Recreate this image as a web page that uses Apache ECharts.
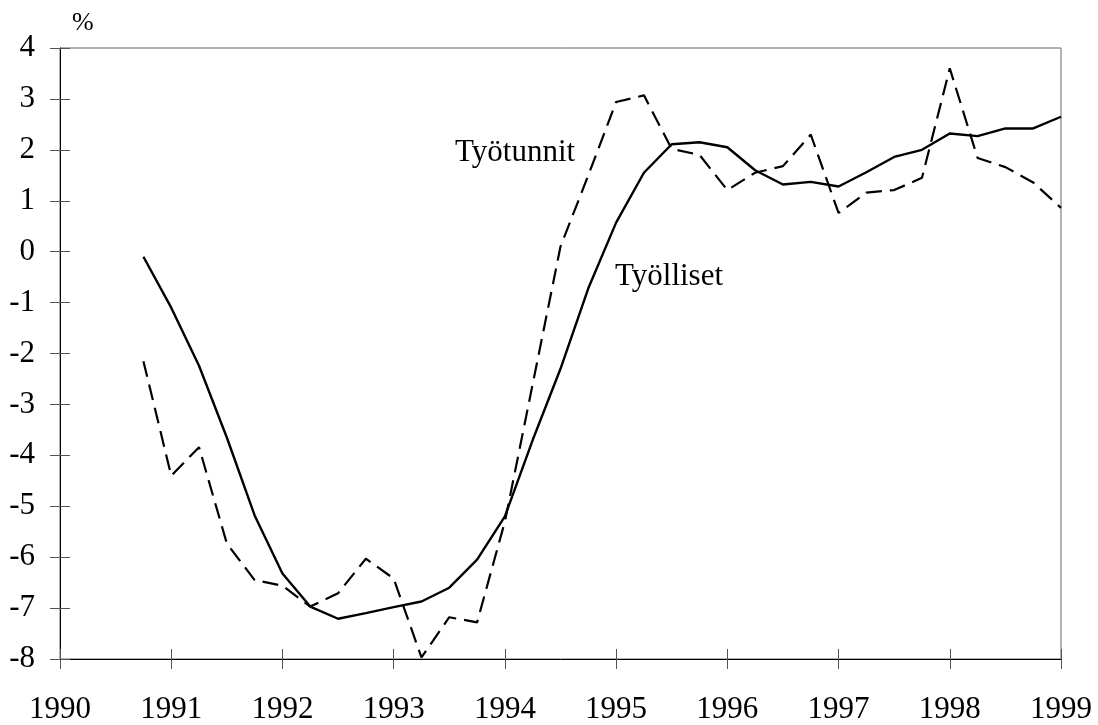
<!DOCTYPE html>
<html>
<head>
<meta charset="utf-8">
<script src="https://cdn.jsdelivr.net/npm/echarts@6/dist/echarts.min.js"></script>
<style>
html,body{margin:0;padding:0;background:#fff;}
#c{width:1098px;height:725px;}
</style>
</head>
<body>
<div id="c"></div>
<script>
// Quarter positions (year fraction)
var periods = [1990.75, 1991.0, 1991.25, 1991.5, 1991.75, 1992.0, 1992.25, 1992.5, 1992.75,
  1993.0, 1993.25, 1993.5, 1993.75, 1994.0, 1994.25, 1994.5, 1994.75,
  1995.0, 1995.25, 1995.5, 1995.75, 1996.0, 1996.25, 1996.5, 1996.75,
  1997.0, 1997.25, 1997.5, 1997.75, 1998.0, 1998.25, 1998.5, 1998.75, 1999.0];
// Työlliset (employed persons), % change
var tyolliset = [-0.1, -1.1, -2.24, -3.65, -5.18, -6.32, -6.97, -7.21, -7.1,
  -6.98, -6.87, -6.6, -6.05, -5.2, -3.7, -2.3, -0.72,
  0.57, 1.55, 2.11, 2.15, 2.05, 1.6, 1.32, 1.37,
  1.28, 1.56, 1.86, 2.0, 2.32, 2.27, 2.42, 2.42, 2.65];
// Työtunnit (hours worked), % change
var tyotunnit = [-2.15, -4.4, -3.84, -5.73, -6.45, -6.56, -6.97, -6.71, -6.03,
  -6.42, -7.97, -7.18, -7.28, -5.3, -2.6, 0.1, 1.5,
  2.94, 3.07, 2.02, 1.9, 1.21, 1.55, 1.68, 2.3,
  0.76, 1.16, 1.21, 1.45, 3.6, 1.84, 1.66, 1.36, 0.86];
var yearTicks = [1990, 1991, 1992, 1993, 1994, 1995, 1996, 1997, 1998, 1999];

function pairs(xs, ys){ return xs.map(function(x,i){ return [x, ys[i]]; }); }

var FONT = '"Liberation Serif", "Times New Roman", serif';
var chart = echarts.init(document.getElementById('c'), null, {renderer:'canvas'});
var xCommon = {type:'value', min:yearTicks[0], max:yearTicks[yearTicks.length-1], interval:1, splitLine:{show:false}};
var yCommon = {type:'value', min:-8, max:4, interval:1, splitLine:{show:false}};
chart.setOption({
  animation:false,
  backgroundColor:'#fff',
  grid:{left:60, right:37, top:48, bottom:64, show:true, borderColor:'#666', borderWidth:1, backgroundColor:'transparent'},
  xAxis:[
    Object.assign({}, xCommon, {position:'bottom',
      axisLine:{show:true, onZero:false, lineStyle:{color:'#000', width:1}},
      axisTick:{show:true, inside:false, length:10, lineStyle:{color:'#555'}},
      axisLabel:{show:true, margin:35, color:'#000', fontSize:31, fontFamily:FONT,
        formatter:function(v){ return String(v); }}}),
    Object.assign({}, xCommon, {position:'bottom',
      axisLine:{show:false, onZero:false},
      axisTick:{show:true, inside:true, length:10, lineStyle:{color:'#555'}},
      axisLabel:{show:false}})
  ],
  yAxis:[
    Object.assign({}, yCommon, {position:'left',
      axisLine:{show:true, onZero:false, lineStyle:{color:'#000', width:1}},
      axisTick:{show:true, inside:false, length:10, lineStyle:{color:'#555'}},
      axisLabel:{show:true, margin:25, color:'#000', fontSize:31, fontFamily:FONT}}),
    Object.assign({}, yCommon, {position:'left',
      axisLine:{show:false, onZero:false},
      axisTick:{show:true, inside:true, length:10, lineStyle:{color:'#555'}},
      axisLabel:{show:false}})
  ],
  series:[
    {name:'Työtunnit', type:'line', xAxisIndex:0, yAxisIndex:0, data:pairs(periods, tyotunnit),
      showSymbol:false, symbol:'none', lineStyle:{color:'#000', width:2.2, type:[16,8]}, z:3},
    {name:'Työlliset', type:'line', xAxisIndex:0, yAxisIndex:0, data:pairs(periods, tyolliset),
      showSymbol:false, symbol:'none', lineStyle:{color:'#000', width:2.4, type:'solid'}, z:4}
  ],
  graphic:[
    {type:'text', left:72, top:10, style:{text:'%', font:'26px ' + FONT, fill:'#000'}},
    {type:'text', left:455, top:137, style:{text:'Työtunnit', font:'31px ' + FONT, fill:'#000'}},
    {type:'text', left:615, top:261, style:{text:'Työlliset', font:'31px ' + FONT, fill:'#000'}}
  ]
});
</script>
</body>
</html>
